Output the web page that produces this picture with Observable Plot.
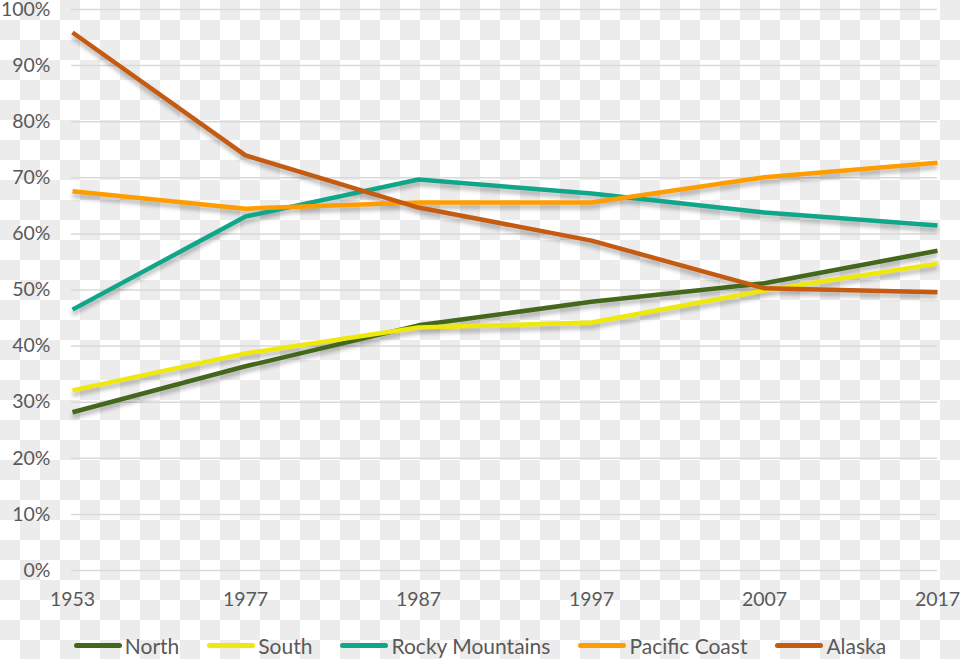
<!DOCTYPE html>
<html>
<head>
<meta charset="utf-8">
<script src="https://cdn.jsdelivr.net/npm/d3@7"></script>
<script src="https://cdn.jsdelivr.net/npm/@observablehq/plot@0.6"></script>
<style>
  html, body { margin: 0; padding: 0; }
  body {
    width: 960px; height: 659px; overflow: hidden;
    background: repeating-conic-gradient(#ececec 0 25%, #ffffff 0 50%) 0 0 / 40px 40px;
    font-family: Lato, "Open Sans", sans-serif;
  }
  #legend {
    display: flex; justify-content: center; align-items: center;
    padding-top: 18px; height: 24px; font-size: 21px; color: #595959;
  }
  .item { display: flex; align-items: center; margin: 0 14px; }
  .sw { width: 48px; height: 5px; border-radius: 3px; margin-right: 3px; }
</style>
</head>
<body>
<div id="chart"></div>
<div id="legend"></div>
<script>
const years = ["1953", "1977", "1987", "1997", "2007", "2017"];
const seriesNames = ["North", "South", "Rocky Mountains", "Pacific Coast", "Alaska"];
const colors = ["#43681b", "#efe80a", "#0fa68a", "#ff9d00", "#c55a11"];
const north   = [0.282, 0.364, 0.437, 0.479, 0.512, 0.570];
const south   = [0.321, 0.387, 0.433, 0.442, 0.499, 0.547];
const rocky   = [0.465, 0.631, 0.697, 0.672, 0.638, 0.615];
const pacific = [0.676, 0.645, 0.656, 0.656, 0.701, 0.727];
const alaska  = [0.959, 0.740, 0.647, 0.588, 0.503, 0.496];
const yTicks = [0, 0.1, 0.2, 0.3, 0.4, 0.5, 0.6, 0.7, 0.8, 0.9, 1.0];

const allSeries = [north, south, rocky, pacific, alaska];
const data = [];
seriesNames.forEach((s, i) => {
  years.forEach((yr, j) => data.push({series: s, year: yr, value: allSeries[i][j]}));
});

const plot = Plot.plot({
  width: 960,
  height: 615,
  marginTop: 9,
  marginBottom: 45,
  marginLeft: 71,
  marginRight: 23,
  style: {background: "transparent", fontFamily: "Lato, 'Open Sans', sans-serif", fontSize: "19.5px", color: "#595959"},
  x: {type: "point", domain: years, padding: 0, label: null},
  y: {domain: [0, 1], label: null},
  color: {domain: seriesNames, range: colors},
  marks: [
    Plot.ruleY(yTicks, {stroke: "#d9d9d9", strokeWidth: 1.5}),
    Plot.axisY({ticks: yTicks, tickFormat: d3.format(".0%"), tickSize: 0, tickPadding: 21, label: null, fill: "#595959"}),
    Plot.axisX({tickSize: 0, tickPadding: 22, label: null, fill: "#595959"}),
    Plot.line(data, {x: "year", y: "value", z: "series", stroke: "series", strokeWidth: 4.5, strokeLinejoin: "round", strokeLinecap: "butt"})
  ]
});
plot.querySelectorAll('g[aria-label="line"]').forEach(g => {
  g.style.filter = "drop-shadow(0px 4px 2px rgba(0,0,0,0.28))";
});
document.getElementById("chart").appendChild(plot);

const legend = document.getElementById("legend");
seriesNames.forEach((s, i) => {
  const it = document.createElement("div");
  it.className = "item";
  const sw = document.createElement("div");
  sw.className = "sw";
  sw.style.background = colors[i];
  const t = document.createElement("span");
  t.textContent = s;
  it.appendChild(sw); it.appendChild(t);
  legend.appendChild(it);
});
</script>
</body>
</html>
